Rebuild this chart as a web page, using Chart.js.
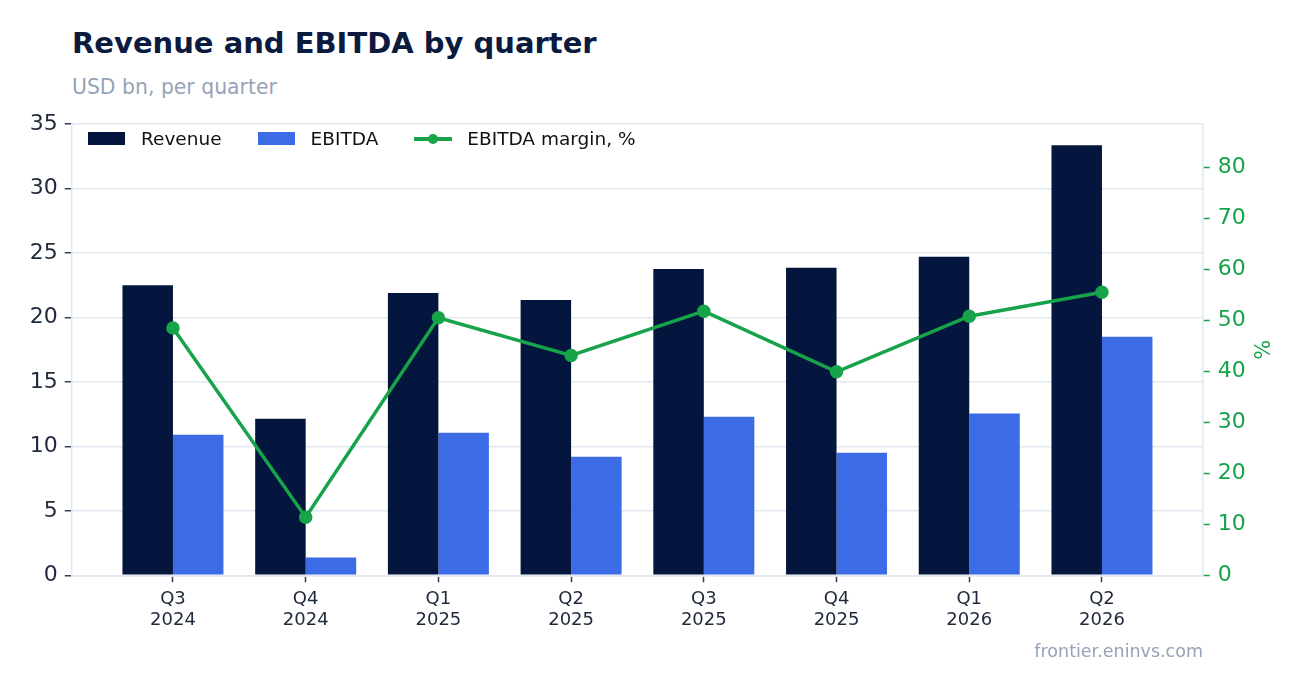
<!DOCTYPE html>
<html>
<head>
<meta charset="utf-8">
<title>Revenue and EBITDA by quarter</title>
<script src="https://cdn.jsdelivr.net/npm/chart.js@4.4.1/dist/chart.umd.min.js"></script>
<style>
    html, body { margin: 0; padding: 0; background: #ffffff; }
    body { width: 1302px; height: 693px; position: relative; overflow: hidden; font-family: "DejaVu Sans", sans-serif; }
    #chart { position: absolute; left: 0; top: 0; }
    .title { position: absolute; left: 72px; top: 26px; font-size: 29px; font-weight: bold; color: #0b1a3f; white-space: nowrap; }
    .subtitle { position: absolute; left: 72px; top: 75px; font-size: 20.4px; color: #94a3b8; white-space: nowrap; }
    .source { position: absolute; right: 99px; top: 641px; font-size: 17.5px; color: #94a3b8; white-space: nowrap; }
    #legend { position: absolute; left: 88px; top: 128px; display: flex; align-items: center; font-size: 18.5px; color: #111111; }
    .legend-item { display: flex; align-items: center; margin-right: 36px; white-space: nowrap; }
    .swatch { width: 37px; height: 13px; margin-right: 16px; }
    .line-swatch { position: relative; width: 38px; height: 14px; margin-right: 15px; }
    .line-swatch .bar { position: absolute; left: 0; top: 5px; width: 38px; height: 4px; }
    .line-swatch .dot { position: absolute; left: 14px; top: 2px; width: 10px; height: 10px; border-radius: 50%; }
</style>
</head>
<body>
<div class="title">Revenue and EBITDA by quarter</div>
<div class="subtitle">USD bn, per quarter</div>
<canvas id="chart" width="1302" height="693"></canvas>
<div id="legend"></div>
<div class="source">frontier.eninvs.com</div>
<script>
// Chart data
const quarters = ['Q3', 'Q4', 'Q1', 'Q2', 'Q3', 'Q4', 'Q1', 'Q2'];
const years = ['2024', '2024', '2025', '2025', '2025', '2025', '2026', '2026'];
const revenue = [22.5, 12.15, 21.9, 21.35, 23.75, 23.85, 24.7, 33.35];
const ebitda = [10.9, 1.38, 11.05, 9.2, 12.3, 9.5, 12.55, 18.5];
const margin = [48.5, 11.4, 50.5, 43.1, 51.8, 39.9, 50.8, 55.5];
const leftTicks = [0, 5, 10, 15, 20, 25, 30, 35];
const rightTicks = [0, 10, 20, 30, 40, 50, 60, 70, 80];

const colors = {
    revenue: '#04163e',
    ebitda: '#3b6ce6',
    margin: '#16a34a',
    grid: '#e2e8f0',
    tick: '#334155',
    text: '#1e293b'
};

// Turn a series into {x, y} points on the linear quarter axis
function toPoints(values) {
    return values.map((v, i) => ({ x: i, y: v }));
}

// Fixed axis sizes so the plot area lands where the reference has it
function fixWidth(w) {
    return function(scale) { scale.width = w; };
}
function fixHeight(h) {
    return function(scale) { scale.height = h; };
}

const ctx = document.getElementById('chart').getContext('2d');
const chart = new Chart(ctx, {
    type: 'bar',
    data: {
        datasets: [
            {
                type: 'line',
                label: 'EBITDA margin, %',
                data: toPoints(margin),
                yAxisID: 'y1',
                borderColor: colors.margin,
                backgroundColor: colors.margin,
                borderWidth: 3.5,
                pointRadius: 5,
                pointHoverRadius: 5,
                tension: 0,
                order: 0
            },
            {
                label: 'Revenue',
                data: toPoints(revenue),
                yAxisID: 'y',
                backgroundColor: colors.revenue,
                order: 1
            },
            {
                label: 'EBITDA',
                data: toPoints(ebitda),
                yAxisID: 'y',
                backgroundColor: colors.ebitda,
                order: 1
            }
        ]
    },
    options: {
        responsive: false,
        animation: false,
        layout: { padding: { top: 124, left: 0, right: 0, bottom: 0 } },
        datasets: {
            bar: { categoryPercentage: 0.761, barPercentage: 1.0 }
        },
        plugins: {
            legend: { display: false },
            tooltip: { enabled: false }
        },
        scales: {
            x: {
                type: 'linear',
                offset: false,
                min: -0.763,
                max: 7.759,
                afterFit: fixHeight(117.7),
                afterBuildTicks: function(scale) {
                    scale.ticks = quarters.map((q, i) => ({ value: i }));
                },
                ticks: {
                    autoSkip: false,
                    maxRotation: 0,
                    padding: 6,
                    color: colors.text,
                    font: { family: 'DejaVu Sans', size: 18 },
                    callback: function(value) {
                        return [quarters[value], years[value]];
                    }
                },
                grid: {
                    offset: false,
                    drawOnChartArea: false,
                    tickLength: 7,
                    tickWidth: 1.5,
                    tickColor: colors.tick
                },
                border: { color: colors.grid, width: 1.5 }
            },
            y: {
                position: 'left',
                min: 0,
                max: 35,
                afterFit: fixWidth(71.7),
                afterBuildTicks: function(scale) {
                    scale.ticks = leftTicks.map(v => ({ value: v }));
                },
                ticks: {
                    padding: 7,
                    color: colors.text,
                    font: { family: 'DejaVu Sans', size: 22 }
                },
                grid: {
                    color: colors.grid,
                    lineWidth: 1.5,
                    tickLength: 7,
                    tickWidth: 1.5,
                    tickColor: colors.tick
                },
                border: { color: colors.grid, width: 1.5 }
            },
            y1: {
                position: 'right',
                min: 0,
                max: 88.5,
                afterFit: fixWidth(99.3),
                afterBuildTicks: function(scale) {
                    scale.ticks = rightTicks.map(v => ({ value: v }));
                },
                ticks: {
                    padding: 8,
                    color: colors.margin,
                    font: { family: 'DejaVu Sans', size: 22 }
                },
                grid: {
                    drawOnChartArea: false,
                    tickLength: 7,
                    tickWidth: 1.5,
                    tickColor: colors.margin
                },
                border: { color: colors.grid, width: 1.5 },
                title: {
                    display: true,
                    text: '%',
                    color: colors.margin,
                    font: { family: 'DejaVu Sans', size: 21 },
                    padding: { top: 30, bottom: 0 }
                }
            }
        }
    }
});

// Build the legend inside the plot area from the chart's datasets
function buildLegend() {
    const box = document.getElementById('legend');
    const order = [1, 2, 0];
    order.forEach(idx => {
        const ds = chart.data.datasets[idx];
        const item = document.createElement('div');
        item.className = 'legend-item';
        if (ds.type === 'line') {
            item.innerHTML = `<span class="line-swatch"><span class="bar" style="background:${ds.borderColor}"></span><span class="dot" style="background:${ds.borderColor}"></span></span><span>${ds.label}</span>`;
        } else {
            item.innerHTML = `<span class="swatch" style="background:${ds.backgroundColor}"></span><span>${ds.label}</span>`;
        }
        box.appendChild(item);
    });
}

buildLegend();
</script>
</body>
</html>
